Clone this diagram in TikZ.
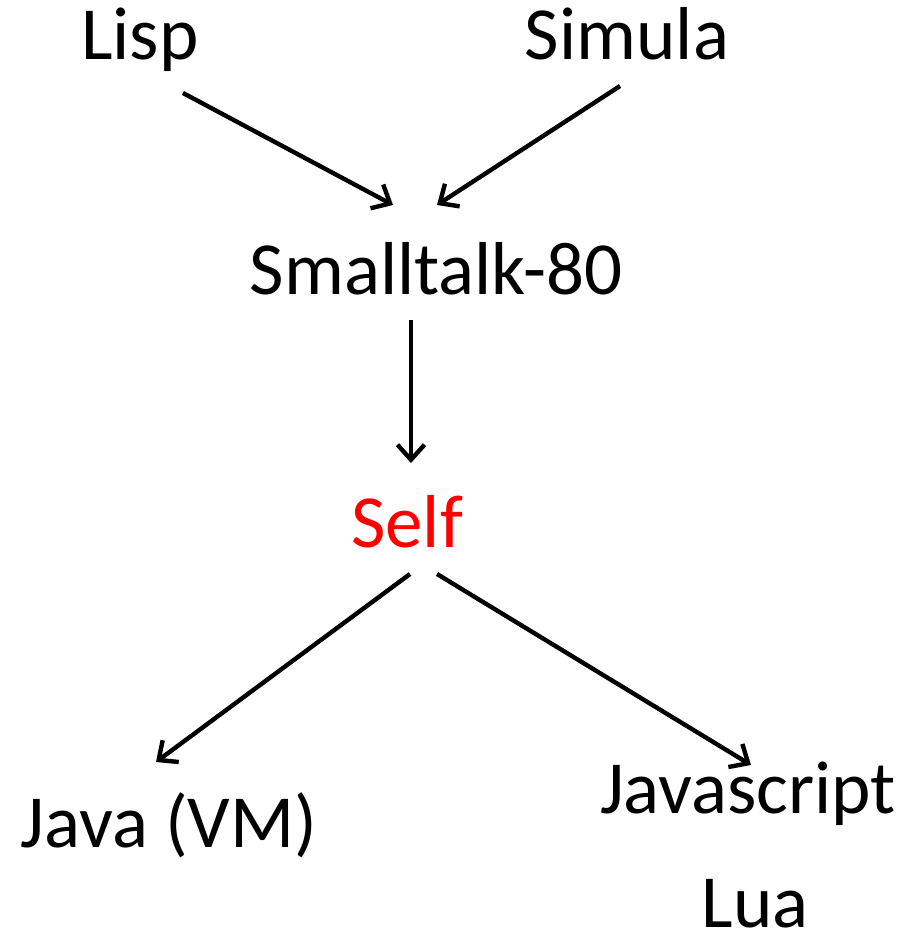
\documentclass[tikz,border=0pt]{standalone}
\usepackage{fontspec}
\setmainfont{Carlito}
\usetikzlibrary{arrows.meta}
\begin{document}
\begin{tikzpicture}[x=1pt,y=-1pt,
  lang/.style={anchor=base,inner sep=0pt,font=\fontsize{75}{90}\selectfont},
  arr/.style={-{Straight Barb[length=15pt,width=27pt,line width=4.4pt]},line width=4.4pt}]
\useasboundingbox (0,0) rectangle (907,936);

% language names
\node[lang] (lisp)   at (140,60)  {Lisp};
\node[lang] (simula) at (627,60)  {Simula};
\node[lang] (st)     at (436,294) {Smalltalk-80};
\node[lang,text=red] (self) at (407,547) {Self};
\node[lang] (java)   at (169,847) {Java (VM)};
\node[lang] (js)     at (748,813) {Javascript};
\node[lang] (lua)    at (755,927) {Lua};

% arrow end points
\coordinate (lisp-out)   at (183,93);
\coordinate (simula-out) at (620,86);
\coordinate (st-in-l)    at (393,205);
\coordinate (st-in-r)    at (437,205);
\coordinate (st-out)     at (411,320);
\coordinate (self-in)    at (411,463);
\coordinate (self-out-l) at (410,574);
\coordinate (self-out-r) at (437,574);
\coordinate (java-in)    at (156,762);
\coordinate (js-in)      at (751,765);

\draw[arr] (lisp-out) -- (st-in-l);
\draw[arr] (simula-out) -- (st-in-r);
\draw[arr] (st-out) -- (self-in);
\draw[arr] (self-out-l) -- (java-in);
\draw[arr] (self-out-r) -- (js-in);
\end{tikzpicture}
\end{document}
